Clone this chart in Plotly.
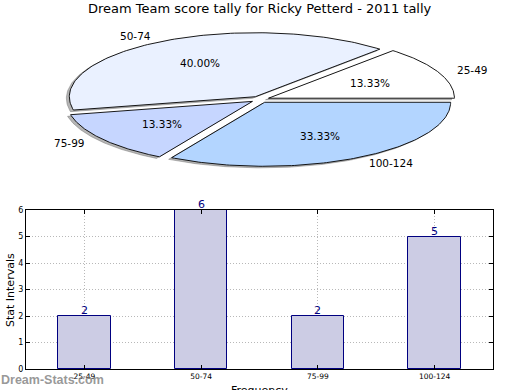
import numpy as np
import plotly.graph_objects as go

title = "Dream Team score tally for Ricky Petterd - 2011 tally"
categories = ["25-49", "50-74", "75-99", "100-124"]
counts = [2, 6, 2, 5]
pie_colors = ["#ffffff", "#eaf1ff", "#c6d6ff", "#b3d5ff"]
bar_color = "#ccccE4"
bar_edge = "#000080"

W, H = 520, 390
# pie geometry (pixel placement of the elliptical pie)
cx, cy, rx, ry = 260, 99.5, 186, 64
pie_top, pie_bot = 20, 182
explode = 0.05

fig = go.Figure()

total = sum(counts)
fracs = [c / total for c in counts]
angles = np.concatenate([[0], np.cumsum(fracs) * 360])

wedges = []
for i, cat in enumerate(categories):
    t1, t2 = angles[i], angles[i + 1]
    mid = np.deg2rad((t1 + t2) / 2)
    ex, ey = explode * np.cos(mid), explode * np.sin(mid)
    th = np.deg2rad(np.linspace(t1, t2, 120))
    xs = np.concatenate([[ex], ex + np.cos(th), [ex]])
    ys = np.concatenate([[ey], ey + np.sin(th), [ey]])
    wedges.append((xs, ys, i, mid))

# shadows
for xs, ys, i, mid in wedges:
    fig.add_trace(go.Scatter(x=xs - 0.016, y=ys - 0.025, mode="lines", fill="toself",
                             fillcolor="rgba(90,90,90,0.45)", line=dict(width=0.8, color="rgba(100,100,100,0.5)"),
                             xaxis="x2", yaxis="y2", hoverinfo="skip", showlegend=False))
# wedges
for xs, ys, i, mid in wedges:
    fig.add_trace(go.Scatter(x=xs, y=ys, mode="lines", fill="toself",
                             fillcolor=pie_colors[i], line=dict(width=0.9, color="#000000"),
                             xaxis="x2", yaxis="y2", name=categories[i], showlegend=False,
                             hoverinfo="name"))

annotations = []
for xs, ys, i, mid in wedges:
    ex, ey = explode * np.cos(mid), explode * np.sin(mid)
    lx, ly = ex + 1.1 * np.cos(mid), ey + 1.1 * np.sin(mid)
    annotations.append(dict(x=lx, y=ly, xref="x2", yref="y2", text=categories[i], showarrow=False,
                            xanchor="left" if lx > 0 else "right", yanchor="middle",
                            font=dict(size=10.5, color="#000")))
    px, py = ex + 0.6 * np.cos(mid), ey + 0.6 * np.sin(mid)
    annotations.append(dict(x=px, y=py, xref="x2", yref="y2", text=f"{fracs[i]*100:.2f}%",
                            showarrow=False, xanchor="center", yanchor="middle",
                            font=dict(size=10.5, color="#000")))

# bar chart
fig.add_trace(go.Bar(x=categories, y=counts, width=0.45, marker=dict(color=bar_color,
                     line=dict(color=bar_edge, width=1)), showlegend=False))
for cat, c in zip(categories, counts):
    annotations.append(dict(x=cat, y=c, xref="x", yref="y", text=str(c), showarrow=False,
                            xanchor="center", yanchor="bottom", yshift=-3,
                            font=dict(size=11, color=bar_edge)))

ax_l, ax_r, ax_t, ax_b = 26, 493, 210, 369

annotations += [
    dict(text=title, x=0.5, y=1 - 8 / H, xref="paper", yref="paper", showarrow=False,
         xanchor="center", yanchor="middle", font=dict(size=13, color="#000")),
    dict(text="Stat Intervals", x=10 / W, y=1 - 290 / H, xref="paper", yref="paper", showarrow=False,
         textangle=-90, xanchor="center", yanchor="middle", font=dict(size=11, color="#000")),
    dict(text="Frequency", x=(ax_l + ax_r) / 2 / W, y=1 - 382 / H, xref="paper", yref="paper",
         showarrow=False, xanchor="center", yanchor="top", font=dict(size=11, color="#000")),
    dict(text="<b>Dream-Stats.com</b>", x=-1 / W, y=1 - 380 / H, xref="paper", yref="paper",
         showarrow=False, xanchor="left", yanchor="middle",
         font=dict(size=12.5, family="Liberation Sans", color="rgba(125,125,125,0.8)")),
]

grid = dict(showgrid=True, gridcolor="#b8b8b8", griddash="1px,2px", gridwidth=1)

fig.update_layout(
    width=W, height=H, margin=dict(l=0, r=0, t=0, b=0, autoexpand=False),
    paper_bgcolor="white", plot_bgcolor="white",
    font=dict(family="DejaVu Sans", color="#000"),
    annotations=annotations,
    bargap=0,
    xaxis=dict(domain=[ax_l / W, ax_r / W], range=[-0.5, 3.5], type="category",
               showline=True, linecolor="#000", linewidth=1, mirror="ticks",
               ticks="inside", ticklen=4, tickcolor="#000",
               tickfont=dict(size=7.5), zeroline=False, fixedrange=True, **grid),
    yaxis=dict(domain=[1 - ax_b / H, 1 - ax_t / H], range=[0, 6], dtick=1,
               showline=True, linecolor="#000", linewidth=1, mirror="ticks",
               ticks="inside", ticklen=4, tickcolor="#000",
               tickfont=dict(size=8), zeroline=False, fixedrange=True, **grid),
    xaxis2=dict(domain=[0, 1], range=[-cx / rx, (W - cx) / rx], visible=False, fixedrange=True),
    yaxis2=dict(domain=[1 - pie_bot / H, 1 - pie_top / H],
                range=[(cy - pie_bot) / ry, (cy - pie_top) / ry], visible=False, fixedrange=True),
)

fig.write_html("out.html", config={"displayModeBar": False},
               post_script="document.body.style.margin='0px';")
